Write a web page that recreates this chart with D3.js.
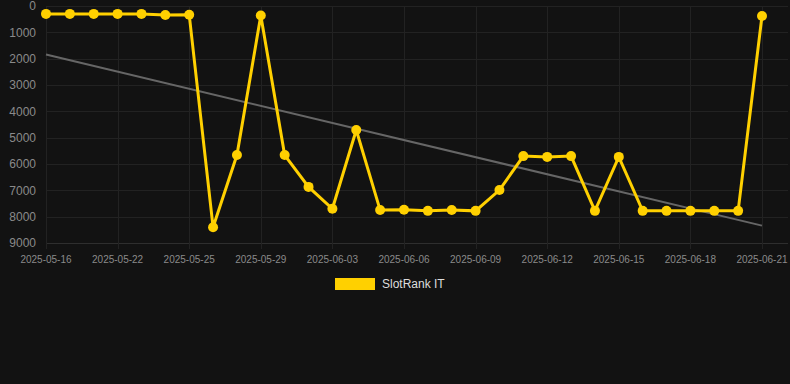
<!DOCTYPE html>
<html><head><meta charset="utf-8">
<script src="https://cdn.jsdelivr.net/npm/d3@7"></script>
<style>html,body{margin:0;padding:0;background:#121212;}svg{display:block;}</style>
</head><body>
<svg id="c" width="790" height="384"></svg>
<script>
const dates = ["2025-05-16","2025-05-18","2025-05-20","2025-05-22","2025-05-23","2025-05-24","2025-05-25","2025-05-26","2025-05-28","2025-05-29","2025-05-31","2025-06-01","2025-06-03","2025-06-04","2025-06-05","2025-06-06","2025-06-07","2025-06-08","2025-06-09","2025-06-10","2025-06-11","2025-06-12","2025-06-13","2025-06-14","2025-06-15","2025-06-16","2025-06-17","2025-06-18","2025-06-19","2025-06-20","2025-06-21"];
const ranks = [300,300,300,300,300,340,330,8400,5660,360,5660,6870,7700,4710,7750,7740,7780,7750,7780,6990,5700,5730,5700,7780,5730,7780,7780,7780,7780,7780,380];
const trendEnds = [1840, 8340];
const yTicks = [0,1000,2000,3000,4000,5000,6000,7000,8000,9000];
const seriesName = "SlotRank IT";

(function(){
const svg = d3.select("#c");
const W = 790, H = 384;
const pL = 46, pR = 788, pT = 6, pB = 243;
const x = d3.scalePoint().domain(dates).range([46, 762]);
const y = d3.scaleLinear().domain([0, 9000]).range([pT, pB]);

svg.append("rect").attr("width", W).attr("height", H).attr("fill", "#121212");

const grid = svg.append("g");
grid.selectAll("line.h").data(yTicks).join("line")
  .attr("x1", pL).attr("x2", pR)
  .attr("y1", d => Math.round(y(d)) + 0.5).attr("y2", d => Math.round(y(d)) + 0.5)
  .attr("stroke", d => d === 9000 ? "#2e2e2e" : "#222222").attr("stroke-width", 1);
const xTickDates = dates.filter((d, i) => i % 3 === 0);
grid.selectAll("line.v").data(xTickDates).join("line")
  .attr("x1", d => Math.round(x(d)) + 0.5).attr("x2", d => Math.round(x(d)) + 0.5)
  .attr("y1", pT).attr("y2", pB + 6)
  .attr("stroke", "#222222").attr("stroke-width", 1);

svg.append("g").selectAll("text").data(yTicks).join("text")
  .attr("x", 36).attr("y", d => y(d)).attr("dy", "0.35em")
  .attr("text-anchor", "end")
  .attr("font-family", "Liberation Sans, Arial, sans-serif").attr("font-size", 12)
  .attr("fill", "#8a8a8a").text(d => d);

svg.append("g").selectAll("text").data(xTickDates).join("text")
  .attr("x", d => x(d)).attr("y", 263)
  .attr("text-anchor", "middle")
  .attr("font-family", "Liberation Sans, Arial, sans-serif").attr("font-size", 10)
  .attr("fill", "#8a8a8a").text(d => d);

svg.append("line")
  .attr("x1", x(dates[0])).attr("x2", x(dates[dates.length - 1]))
  .attr("y1", y(trendEnds[0])).attr("y2", y(trendEnds[1]))
  .attr("stroke", "#666666").attr("stroke-width", 2);

const line = d3.line().x((d, i) => x(dates[i])).y(d => y(d));
svg.append("path").datum(ranks).attr("d", line)
  .attr("fill", "none").attr("stroke", "#FFD000").attr("stroke-width", 3)
  .attr("stroke-linejoin", "miter");

svg.append("g").selectAll("circle").data(ranks).join("circle")
  .attr("cx", (d, i) => x(dates[i])).attr("cy", d => y(d)).attr("r", 5)
  .attr("fill", "#FFD000");

svg.append("rect").attr("x", 335).attr("y", 278).attr("width", 40).attr("height", 12).attr("fill", "#FFD000");
svg.append("text").attr("x", 382).attr("y", 284).attr("dy", "0.35em")
  .attr("font-family", "Liberation Sans, Arial, sans-serif").attr("font-size", 12)
  .attr("fill", "#dddddd").text(seriesName);
})();
</script>
</body></html>
